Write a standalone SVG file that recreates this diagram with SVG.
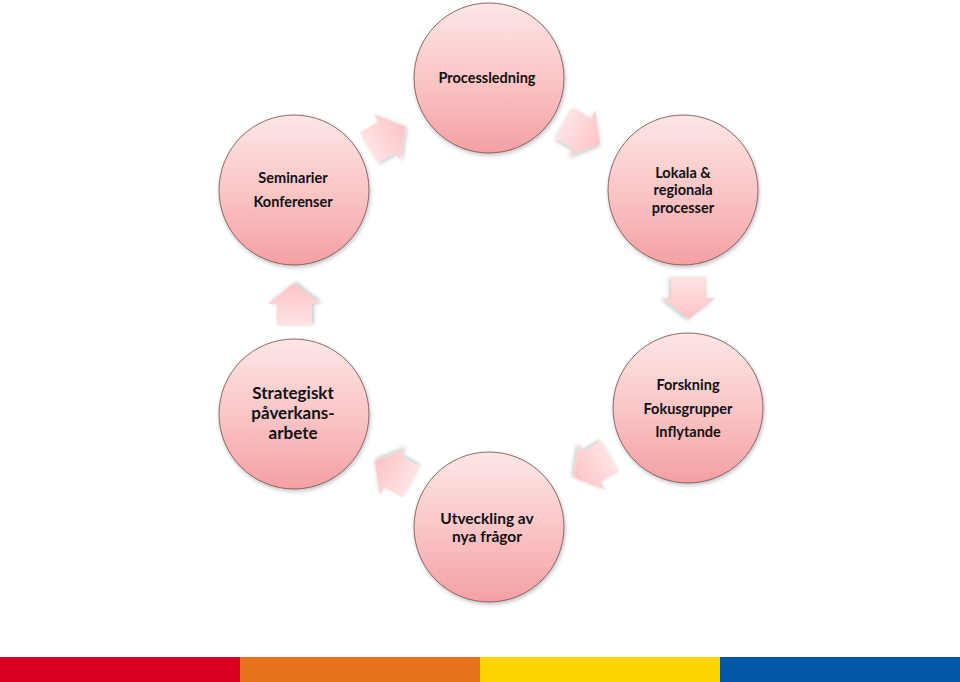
<svg xmlns="http://www.w3.org/2000/svg" width="960" height="682" viewBox="0 0 960 682">
<defs>
<linearGradient id="cg" x1="0" y1="0" x2="0" y2="1">
<stop offset="0" stop-color="#FDE6E6"/>
<stop offset="0.5" stop-color="#FAC6C7"/>
<stop offset="1" stop-color="#F4A0A3"/>
</linearGradient>
<linearGradient id="ag" x1="0" y1="0" x2="1" y2="0">
<stop offset="0" stop-color="#FFE3E4"/>
<stop offset="1" stop-color="#FCC3C6"/>
</linearGradient>
<filter id="sh" x="-20%" y="-20%" width="140%" height="140%">
<feGaussianBlur in="SourceAlpha" stdDeviation="2"/>
<feOffset dx="1" dy="2" result="b"/>
<feComponentTransfer><feFuncA type="linear" slope="0.25"/></feComponentTransfer>
<feMerge><feMergeNode/><feMergeNode in="SourceGraphic"/></feMerge>
</filter>
<path id="arr" d="M-21,-17.5 L0,-17.5 L0,-26.5 L21,0 L0,26.5 L0,17.5 L-21,17.5 Z"/>
</defs>
<style>
.c{fill:url(#cg);stroke:#6E4A4A;stroke-width:0.8;filter:url(#sh)}
.a{fill:url(#ag);filter:url(#sh)}
text{font-family:Lato,"Open Sans","Liberation Sans",sans-serif;font-weight:bold;fill:#111;text-anchor:middle}
</style>
<rect width="960" height="682" fill="#fff"/>
<g id="connectors">
<use href="#arr" class="a" transform="translate(387,137) rotate(-30)"/>
<use href="#arr" class="a" transform="translate(582,133) rotate(30)"/>
<use href="#arr" class="a" transform="translate(689,298) rotate(90)"/>
<use href="#arr" class="a" transform="translate(592,467) rotate(150)"/>
<use href="#arr" class="a" transform="translate(393,472) rotate(210)"/>
<use href="#arr" class="a" transform="translate(294,304) rotate(-90)"/>
</g>
<g id="processledning">
<circle class="c" cx="489" cy="78" r="75"/>
<text x="487" y="83" font-size="14.5">Processledning</text>
</g>
<g id="lokala">
<circle class="c" cx="683" cy="190" r="75"/>
<text x="683" y="178" font-size="14.5">Lokala &amp;</text>
<text x="683" y="195" font-size="14.5">regionala</text>
<text x="683" y="213" font-size="14.5">processer</text>
</g>
<g id="forskning">
<circle class="c" cx="688" cy="408" r="75"/>
<text x="688" y="390" font-size="14.5">Forskning</text>
<text x="688" y="414" font-size="14.5">Fokusgrupper</text>
<text x="688" y="437" font-size="14.5">Inflytande</text>
</g>
<g id="utveckling">
<circle class="c" cx="489" cy="527" r="75"/>
<text x="487" y="524" font-size="15.5">Utveckling av</text>
<text x="487" y="542" font-size="15.5">nya frågor</text>
</g>
<g id="strategiskt">
<circle class="c" cx="294" cy="414" r="75"/>
<text x="293" y="399" font-size="17">Strategiskt</text>
<text x="293" y="419" font-size="17">påverkans-</text>
<text x="293" y="439" font-size="17">arbete</text>
</g>
<g id="seminarier">
<circle class="c" cx="294" cy="190" r="75"/>
<text x="293" y="183" font-size="14.5">Seminarier</text>
<text x="293" y="207" font-size="14.5">Konferenser</text>
</g>
<g id="bar">
<rect x="0" y="657" width="240" height="25" fill="#D7001F"/>
<rect x="240" y="657" width="240" height="25" fill="#E8711E"/>
<rect x="480" y="657" width="240" height="25" fill="#FFD500"/>
<rect x="720" y="657" width="240" height="25" fill="#0057A3"/>
</g>
</svg>
